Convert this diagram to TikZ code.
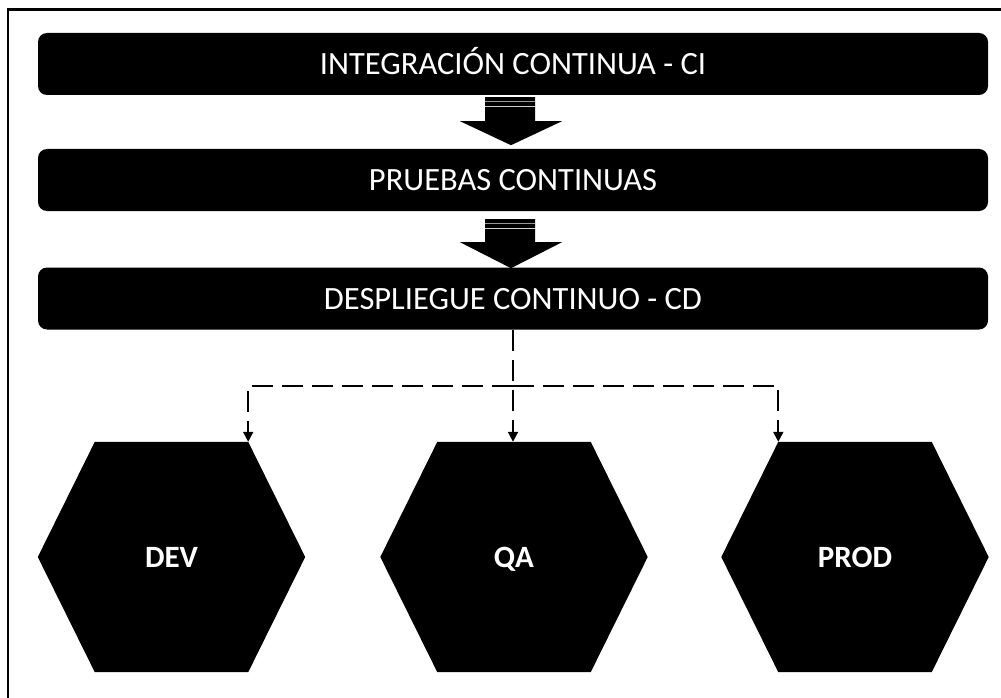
\documentclass[tikz,border=0pt]{standalone}
\usepackage{fontspec}
\setmainfont{Carlito}
\usetikzlibrary{calc,arrows.meta,backgrounds}

% Block arrow between two stages: #1 source node, #2 shaft top, #3 head start, #4 tip (offsets below #1.south)
\newcommand\flowarrow[4]{%
  \fill[flow] ($(#1.south)+(-28,#2)$) -- ($(#1.south)+(22,#2)$) -- ($(#1.south)+(22,#3)$)
    -- ($(#1.south)+(49,#3)$) -- ($(#1.south)+(-2,#4)$) -- ($(#1.south)+(-53,#3)$)
    -- ($(#1.south)+(-28,#3)$) -- cycle;
  \draw[black!40, line width=1pt] ($(#1.south)+(-28,#2+4)$) -- ($(#1.south)+(22,#2+4)$);
  \draw[black!18, line width=0.6pt] ($(#1.south)+(-28,#2+9)$) -- ($(#1.south)+(22,#2+9)$);
}

\begin{document}
\begin{tikzpicture}[x=1pt, y=-1pt,
  stage/.style={fill=black, rounded corners=9pt, minimum width=950pt, minimum height=62pt,
    inner sep=0pt, text=white, font=\fontsize{32.5}{37}\selectfont,
    text height=21pt, text depth=0pt},
  envnode/.style={minimum width=267pt, minimum height=230pt, inner sep=0pt, text=white,
    font=\fontsize{31}{36}\selectfont\bfseries, text height=20pt, text depth=0pt},
  flow/.style={fill=black},
  link/.style={line width=2pt, dash pattern=on 21pt off 9pt,
    -{Triangle[length=10pt,width=10pt]}},
  frame/.style={line width=2.2pt},
]
\useasboundingbox (0,0) rectangle (1001,698);

% outer frame (top and left edges)
\draw[frame] (8,698) -- (8,9.5) -- (1001,9.5);

% pipeline stages
\node[stage] (ci) at (513,64) {INTEGRACIÓN CONTINUA - CI};
\node[stage] (pt) at (513,180) {PRUEBAS CONTINUAS};
\node[stage] (cd) at (513,298.5) {DESPLIEGUE CONTINUO - CD};

% block arrows between stages
\flowarrow{ci}{2}{26}{50}
\flowarrow{pt}{8}{31}{57}

% environments
\node[envnode] (dev)  at (171.5,557) {DEV};
\node[envnode] (qa)   at (514,557)   {QA};
\node[envnode] (prod) at (855,557)   {PROD};

\begin{pgfonlayer}{background}
\foreach \n in {dev,qa,prod}
  \fill (\n.west) -- ($(\n.north west)+(57,0)$) -- ($(\n.north east)+(-57,0)$) -- (\n.east)
    -- ($(\n.south east)+(-57,0)$) -- ($(\n.south west)+(57,0)$) -- cycle;
\end{pgfonlayer}

% deployment connectors
\coordinate (devin)  at ($(dev.north east)+(-57,0)$);
\coordinate (prodin) at ($(prod.north west)+(57,0)$);
\coordinate (split)  at ($(cd.south)+(0,56)$);
\draw[link] (cd.south) -- (cd.south |- qa.north);
\draw[link] (split) -- (split -| devin) -- (devin);
\draw[link] (split) -- (split -| prodin) -- (prodin);
\end{tikzpicture}
\end{document}
